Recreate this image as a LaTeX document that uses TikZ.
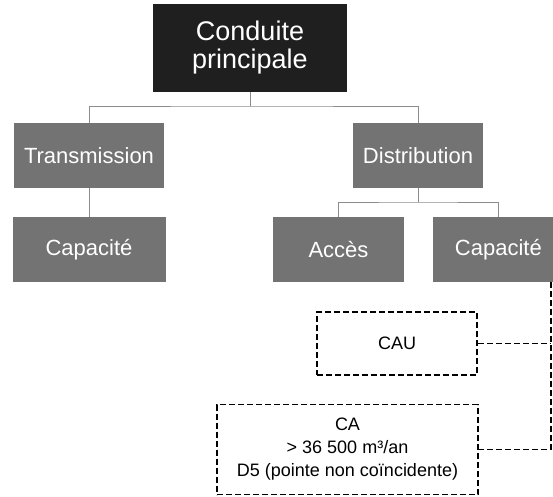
\documentclass[tikz,border=0pt]{standalone}
\usepackage{fontspec}
\setmainfont{Liberation Sans}
\usetikzlibrary{positioning}
\tikzset{node distance=29pt, % gap between the boxes of one branch
  every node/.style={align=center, inner sep=0pt},
         rootbox/.style={ % top box
           fill=black!88, text=white,
           minimum width=194pt, minimum height=88pt,
           font=\fontsize{27}{28}\selectfont},
         levelbox/.style={ % grey boxes of the tree
           fill=black!55, text=white,
           minimum height=65pt,
           font=\fontsize{22}{26}\selectfont},
         notebox/.style={ % dashed boxes
           draw, line width=1.8pt, dash pattern=on 6pt off 3pt,
           font=\fontsize{18}{23}\selectfont},
         treeline/.style={draw=black!45, line width=0.8pt},
         noteline/.style={draw, line width=1.8pt, dash pattern=on 6pt off 3pt}}

\begin{document}
\begin{tikzpicture}[x=1pt,y=-1pt]
  \useasboundingbox (0,0) rectangle (553,496);

  \node [rootbox] (main) at (250,48) {Conduite\\principale};

  \node [levelbox, minimum width=150pt] (trans) at (89,155.5) {Transmission};
  \node [levelbox, minimum width=153pt, below=29pt of trans] (capT) {Capacité};

  \node [levelbox, minimum width=130pt] (dist) at (418,155.5) {Distribution};
  \node [levelbox, minimum width=131pt] (acces) at (338.5,249.5) {Accès};
  \node [levelbox, minimum width=130pt, right=29pt of acces] (capD) {Capacité};

  \node [notebox, minimum width=160pt, minimum height=63pt] (cau) at (397,343.5) {CAU};
  \node [notebox, minimum width=261pt, minimum height=90pt] (ca) at (347.5,449.5) {
    CA\\
    > 36 500 m³/an\\
    D5 (pointe non coïncidente)
  };

  % tree
  \coordinate (split) at (250,106);
  \coordinate (fork) at (418,202);
  \draw [treeline] (main) -- (split);
  \draw [treeline] (trans.north) |- (split) -| (dist.north);
  \draw [treeline] (trans) -- (capT);
  \draw [treeline] (dist) -- (fork);
  \draw [treeline] (acces.north) |- (fork) -| (capD.north);

  % dashed links
  \coordinate (tap) at ([xshift=-13pt]capD.south east);
  \draw [noteline] (tap) |- (ca.east);
  \draw [noteline] (cau.east) -- (cau.east -| tap);
\end{tikzpicture}
\end{document}
